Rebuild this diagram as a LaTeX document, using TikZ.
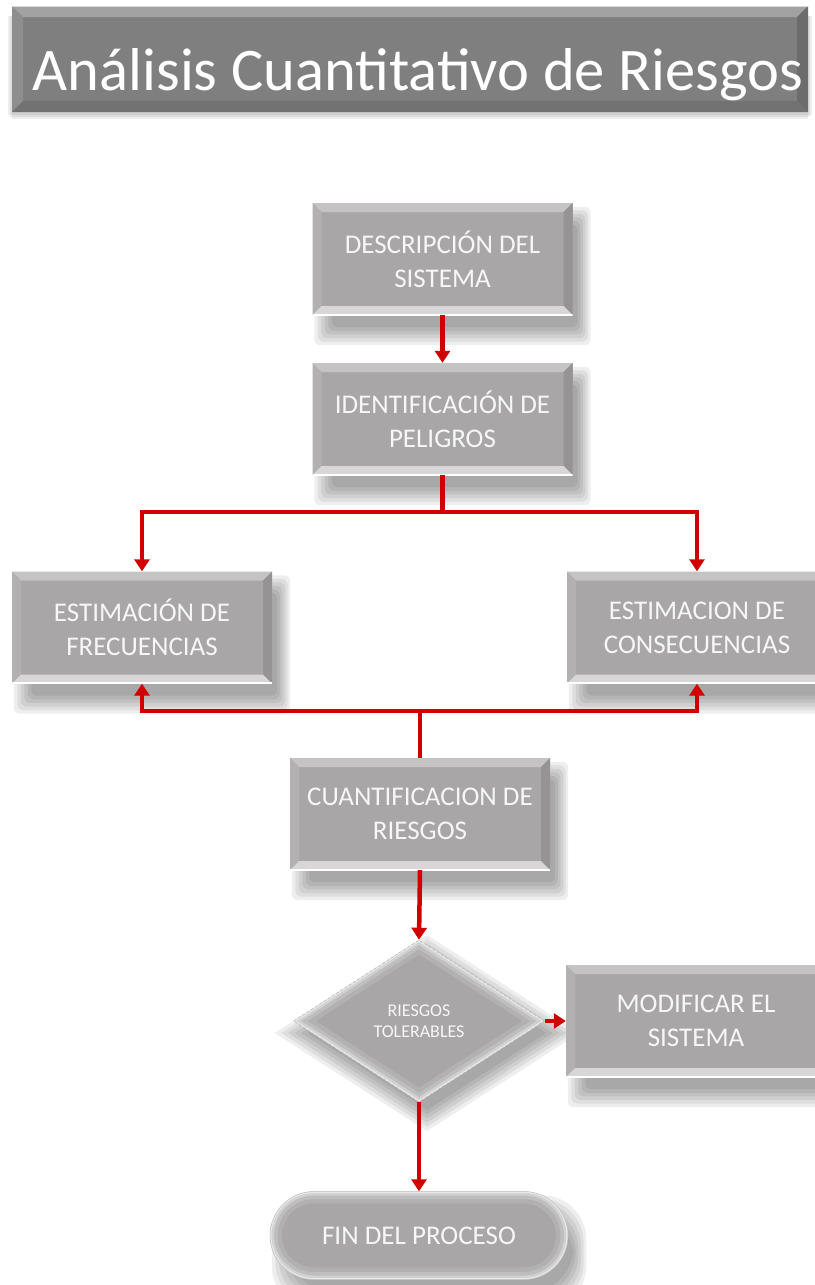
\documentclass[tikz,border=0pt]{standalone}
\usepackage{fontspec}
\setmainfont{Carlito}
\usetikzlibrary{arrows.meta,shapes.geometric,calc}
\pgfdeclarelayer{bg}
\pgfsetlayers{bg,main}
\definecolor{boxgray}{HTML}{A8A6A6}
\definecolor{titlegray}{HTML}{7F7F7F}
\definecolor{titlelight}{HTML}{A2A2A2}
\definecolor{arrowred}{HTML}{D00000}
\definecolor{bevlight}{HTML}{C5C3C3}
\definecolor{bevside}{HTML}{B2B0B0}
\definecolor{bevdark}{HTML}{959393}
\definecolor{bevbottom}{HTML}{D8D6D6}
\definecolor{boxtext}{HTML}{F7F7F7}
\newcommand{\bv}{9pt}
% soft shadow of a rectangular node (optional corner radius)
\newcommand{\boxshadow}[2][6pt]{%
  \begin{pgfonlayer}{bg}
  \foreach \i in {0,...,5}{%
    \pgfmathsetmacro{\li}{2+3.5*\i}\pgfmathsetmacro{\re}{18-2.6*\i}%
    \pgfmathsetmacro{\ti}{4+3.5*\i}\pgfmathsetmacro{\be}{30-3.6*\i}%
    \fill[shadowfill, rounded corners=#1] ([xshift=\li pt, yshift=-\ti pt]#2.north west)
      rectangle ([xshift=\re pt, yshift=-\be pt]#2.south east);
  }
  \end{pgfonlayer}}
% soft shadow of a diamond node
\newcommand{\diamondshadow}[1]{%
  \begin{pgfonlayer}{bg}
  \foreach \i in {0,...,5}{%
    \pgfmathsetmacro{\e}{14-3.5*\i}%
    \pgfmathsetmacro{\ny}{-12+1.2*\e}\pgfmathsetmacro{\sy}{-12-1.2*\e}%
    \pgfmathsetmacro{\ex}{8+1.9*\e}\pgfmathsetmacro{\wx}{8-1.9*\e}%
    \fill[shadowfill] ([xshift=8pt, yshift=\ny pt]#1.north) -- ([xshift=\ex pt, yshift=-12pt]#1.east)
      -- ([xshift=8pt, yshift=\sy pt]#1.south) -- ([xshift=\wx pt, yshift=-12pt]#1.west) -- cycle;
  }
  \end{pgfonlayer}}
\begin{document}
\begin{tikzpicture}[x=1pt,y=-1pt,
  shadowfill/.style={fill=black, opacity=0.065},
  bevelbox/.style={rectangle, fill=boxgray, inner sep=0pt, minimum width=260pt, minimum height=112pt,
    align=center, text=boxtext, font=\fontsize{27}{34}\selectfont,
    path picture={
      \fill[bevlight] (path picture bounding box.north west) -- (path picture bounding box.north east)
        -- ([shift={(-\bv,-\bv)}]path picture bounding box.north east) -- ([shift={(\bv,-\bv)}]path picture bounding box.north west) -- cycle;
      \fill[bevside] (path picture bounding box.north west) -- ([shift={(\bv,-\bv)}]path picture bounding box.north west)
        -- ([shift={(\bv,\bv)}]path picture bounding box.south west) -- (path picture bounding box.south west) -- cycle;
      \fill[bevdark] (path picture bounding box.north east) -- ([shift={(-\bv,-\bv)}]path picture bounding box.north east)
        -- ([shift={(-\bv,\bv)}]path picture bounding box.south east) -- (path picture bounding box.south east) -- cycle;
      \fill[bevbottom] (path picture bounding box.south west) -- ([shift={(\bv,\bv)}]path picture bounding box.south west)
        -- ([shift={(-\bv,\bv)}]path picture bounding box.south east) -- (path picture bounding box.south east) -- cycle;
      \draw[white, line width=3pt] (path picture bounding box.south west) -- (path picture bounding box.south east);
    }},
  titlebar/.style={rectangle, fill=titlegray, inner sep=0pt, minimum width=796pt, minimum height=106pt,
    path picture={
      \fill[titlelight] (path picture bounding box.north west) -- (path picture bounding box.north east)
        -- ([shift={(-11pt,-11pt)}]path picture bounding box.north east) -- ([shift={(11pt,-11pt)}]path picture bounding box.north west) -- cycle;
      \fill[titlegray!88!white] (path picture bounding box.north west) -- ([shift={(11pt,-11pt)}]path picture bounding box.north west)
        -- ([shift={(11pt,11pt)}]path picture bounding box.south west) -- (path picture bounding box.south west) -- cycle;
      \fill[titlegray!85!black] (path picture bounding box.north east) -- ([shift={(-11pt,-11pt)}]path picture bounding box.north east)
        -- ([shift={(-11pt,11pt)}]path picture bounding box.south east) -- (path picture bounding box.south east) -- cycle;
      \fill[titlegray!90!black] (path picture bounding box.south west) -- ([shift={(11pt,11pt)}]path picture bounding box.south west)
        -- ([shift={(-11pt,11pt)}]path picture bounding box.south east) -- (path picture bounding box.south east) -- cycle;
      \draw[white!85!black, line width=2pt] (path picture bounding box.north west) -- (path picture bounding box.north east);
    }},
  titletext/.style={inner sep=0pt, text=white, font=\fontsize{60.5}{66}\selectfont},
  decision/.style={diamond, fill=boxgray, inner sep=0pt, minimum width=251pt, minimum height=162pt, shape aspect=1.55,
    draw=black!30, densely dashed, line width=0.5pt, align=center, text=boxtext,
    font=\fontsize{18}{21}\selectfont,
    path picture={\foreach \w/\o in {24/0.12,15/0.18,8/0.3,3/0.5}{
      \draw[white, opacity=\o, line width=\w pt, solid] (path picture bounding box.north) -- (path picture bounding box.east)
        -- (path picture bounding box.south) -- (path picture bounding box.west) -- cycle;}}},
  terminal/.style={rectangle, rounded corners=44pt, fill=boxgray, inner sep=0pt, minimum width=298pt, minimum height=88pt,
    draw=black!25, line width=0.5pt, text=boxtext, font=\fontsize{27}{34}\selectfont,
    path picture={\foreach \w/\o in {24/0.12,15/0.18,8/0.3,3/0.5}{
      \draw[white, opacity=\o, line width=\w pt, rounded corners=44pt] (path picture bounding box.north west) rectangle (path picture bounding box.south east);}}},
  ln/.style={draw=arrowred, line width=4.5pt},
  arr/.style={draw=arrowred, line width=4.5pt, -{Triangle[width=15pt,length=12pt]}}
]
\useasboundingbox (0,0) rectangle (814,1285);
\begin{pgfonlayer}{bg}
\fill[white] (0,0) rectangle (814,1285);
\end{pgfonlayer}

\node[titlebar] (title) at (410,59) {};
\node[titletext, anchor=base] (titletxt) at (418,90) {Análisis Cuantitativo de Riesgos};
\begin{pgfonlayer}{bg}
\foreach \e in {0,2,4}{\fill[shadowfill] ([yshift=-10pt, xshift=-\e pt]title.north west) rectangle ([yshift=-7pt+\e pt, xshift=\e pt]title.south east);}
\end{pgfonlayer}

\node[bevelbox] (b1) at (442.5,259) {DESCRIPCIÓN DEL\\SISTEMA};
\node[bevelbox] (b2) at (442.5,419) {IDENTIFICACIÓN DE\\PELIGROS};
\node[bevelbox] (b4) at (142,627.5) {ESTIMACIÓN DE\\FRECUENCIAS};
\node[bevelbox] (b5) at (697,627.5) {ESTIMACION DE\\CONSECUENCIAS};
\node[bevelbox] (b6) at (420,814) {CUANTIFICACION DE\\RIESGOS};
\node[decision] (d1) at (419,1021) {RIESGOS\\TOLERABLES};
\node[bevelbox] (b7) at (696,1021) {MODIFICAR EL\\SISTEMA};
\node[terminal] (t1) at (419,1235.5) {FIN DEL PROCESO};

\boxshadow{b1}
\boxshadow{b2}
\boxshadow{b4}
\boxshadow{b5}
\boxshadow{b6}
\boxshadow{b7}
\boxshadow[44pt]{t1}
\diamondshadow{d1}

\coordinate (j1) at (442.5,512);
\coordinate (j2) at (420,711);

\draw[arr] (b1.south) -- (b2.north);
\draw[ln] (b2.south) -- (j1);
\draw[arr] (j1) -| (b4.north);
\draw[arr] (j1) -| (b5.north);
\draw[ln] (b6.north) -- (j2);
\draw[arr] (j2) -| (b4.south);
\draw[arr] (j2) -| (b5.south);
\draw[arr] (b6.south) -- (d1.north);
\draw[arr] (d1.east) -- (b7.west);
\draw[arr] (d1.south) -- (t1.north);
\end{tikzpicture}
\end{document}
